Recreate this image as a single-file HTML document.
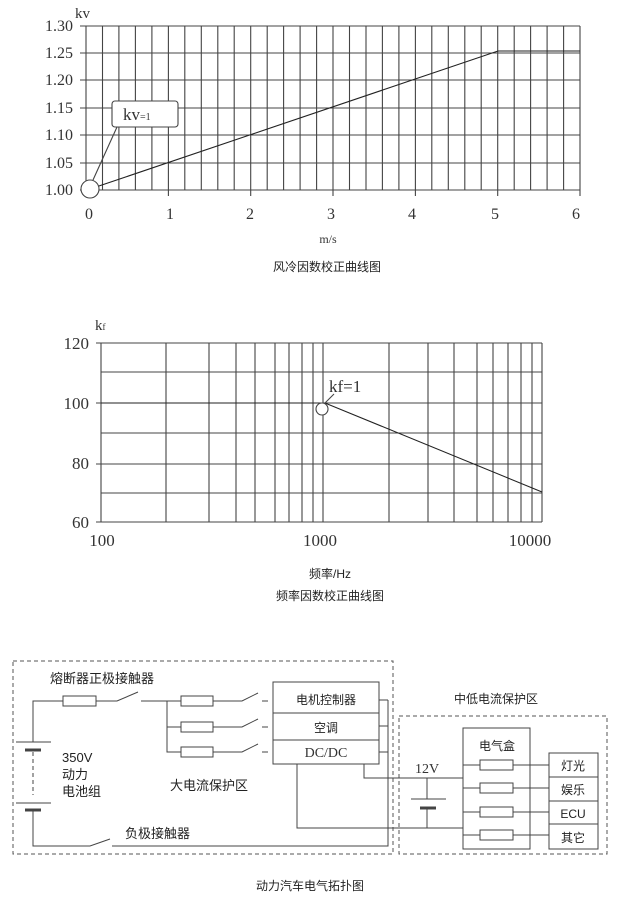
<!DOCTYPE html>
<html><head><meta charset="utf-8"><style>
html,body{margin:0;padding:0;background:#fff;}
svg{display:block;}
.s{font-family:"Liberation Serif",serif;fill:#333;}
.c{font-family:"Liberation Sans","Noto Sans CJK SC",sans-serif;fill:#222;}
</style></head><body>
<svg width="617" height="902" viewBox="0 0 617 902" xmlns="http://www.w3.org/2000/svg">
<g stroke="#444" stroke-width="1.1" fill="none">
<path d="M86 26V190M102.5 26V190M118.9 26V190M135.4 26V190M151.9 26V190M168.4 26V190M184.8 26V190M201.3 26V190M217.8 26V190M234.2 26V190M250.7 26V190M267.2 26V190M283.6 26V190M300.1 26V190M316.6 26V190M333 26V190M349.5 26V190M366 26V190M382.4 26V190M398.9 26V190M415.4 26V190M431.8 26V190M448.3 26V190M464.8 26V190M481.2 26V190M497.7 26V190M514.2 26V190M530.6 26V190M547.1 26V190M563.6 26V190M580 26V196"/>
<path d="M80 26H580M80 53H580M80 80H580M80 108H580M80 135H580M80 163H580M80 190H580M86 190V196M168.4 190V196M250.7 190V196M333 190V196M415.4 190V196M497.7 190V196"/>
<path d="M90 189L498 51H580" stroke="#222"/>
<circle cx="90" cy="189" r="9" fill="#fff"/>
<path d="M117 127L93 180"/>
<rect x="112" y="101" width="66" height="26" rx="3" fill="#fff"/>
<path d="M101 343V522M166 343V522M209 343V522M236 343V522M255 343V522M275 343V522M289 343V522M302 343V522M313 343V522M323 343V522M389 343V522M428 343V522M454 343V522M477 343V522M493 343V522M508 343V522M521 343V522M532 343V522M542 343V522"/>
<path d="M96 343H542M101 372H542M96 403H542M101 433H542M96 464H542M101 493H542M96 522H542"/>
<path d="M101 403H325L542 492" stroke="#222"/>
<circle cx="322" cy="409" r="6" fill="#fff"/>
<path d="M325 403L334 394"/>
</g>
<g class="s" font-size="16">
<text x="75" y="18" font-size="15">kv</text>
<g text-anchor="end"><text x="73" y="31">1.30</text><text x="73" y="58">1.25</text><text x="73" y="85">1.20</text><text x="73" y="113">1.15</text><text x="73" y="140">1.10</text><text x="73" y="168">1.05</text><text x="73" y="195">1.00</text></g>
<g text-anchor="middle"><text x="89" y="219">0</text><text x="170" y="219">1</text><text x="250" y="219">2</text><text x="331" y="219">3</text><text x="412" y="219">4</text><text x="495" y="219">5</text><text x="576" y="219">6</text></g>
<text x="123" y="120" font-size="17">kv<tspan font-size="10">=1</tspan></text>
<text x="328" y="243" text-anchor="middle" font-size="12">m/s</text>
<text x="95" y="330" font-size="15">k<tspan font-size="9">f</tspan></text>
<g text-anchor="end" font-size="17"><text x="89" y="349">120</text><text x="89" y="409">100</text><text x="89" y="469">80</text><text x="89" y="528">60</text></g>
<g text-anchor="middle" font-size="17"><text x="102" y="546">100</text><text x="320" y="546">1000</text><text x="530" y="546">10000</text></g>
<text x="329" y="392" font-size="17">kf=1</text>
</g>
<g class="c" font-size="12" text-anchor="middle">
<text x="327" y="271">风冷因数校正曲线图</text>
<text x="330" y="578">频率/Hz</text>
<text x="330" y="600">频率因数校正曲线图</text>
<text x="310" y="890">动力汽车电气拓扑图</text>
</g>
<g fill="none" stroke="#444" stroke-width="1">
<rect x="13" y="661" width="380" height="193" stroke-dasharray="4,3" stroke="#555"/>
<rect x="399" y="716" width="208" height="138" stroke-dasharray="4,3" stroke="#555"/>
<path d="M33 742V701H63M96 701H117L138 692M141 701H181M167 701V752H181M167 727H181M213 701H242L258 693M213 727H242L258 719M213 752H242L258 744M262 701H268M262 727H268M262 752H268"/>
<rect x="63" y="696" width="33" height="10"/>
<rect x="181" y="696" width="32" height="10"/>
<rect x="181" y="722" width="32" height="10"/>
<rect x="181" y="747" width="32" height="10"/>
<path d="M16 742H51M16 803H51"/>
<path d="M25 750H41M25 810H41" stroke-width="3"/>
<path d="M33 752V795" stroke-dasharray="4,3"/>
<path d="M33 810V846H90L110 839M112 846H388V700M379 700H388M379 726H388M379 752H388"/>
<rect x="273" y="682" width="106" height="82" fill="#fff"/>
<path d="M273 713H379M273 740H379"/>
<path d="M297 764V828H463M364 764V778H463M427 778V799M427 808V828"/>
<path d="M411 799H446"/>
<path d="M420 808H436" stroke-width="3"/>
<rect x="463" y="728" width="67" height="121"/>
<path d="M463 765H549M463 788H549M463 812H549M463 835H549"/>
<rect x="480" y="760" width="33" height="10" fill="#fff"/>
<rect x="480" y="783" width="33" height="10" fill="#fff"/>
<rect x="480" y="807" width="33" height="10" fill="#fff"/>
<rect x="480" y="830" width="33" height="10" fill="#fff"/>
<rect x="549" y="753" width="49" height="96"/>
<path d="M549 777H598M549 801H598M549 824H598"/>
</g>
<g class="c" font-size="13">
<text x="50" y="683">熔断器正极接触器</text>
<text x="62" y="762">350V</text>
<text x="62" y="779">动力</text>
<text x="62" y="796">电池组</text>
<text x="170" y="790">大电流保护区</text>
<text x="125" y="838">负极接触器</text>
</g>
<g class="c" font-size="12" text-anchor="middle">
<text x="326" y="704">电机控制器</text>
<text x="326" y="732">空调</text>
<text x="496" y="703">中低电流保护区</text>
<text x="497" y="750">电气盒</text>
<text x="573" y="770">灯光</text>
<text x="573" y="794">娱乐</text>
<text x="573" y="818">ECU</text>
<text x="573" y="842">其它</text>
</g>
<g class="s" font-size="14" text-anchor="middle">
<text x="326" y="757">DC/DC</text>
<text x="427" y="773">12V</text>
</g>
</svg>
</body></html>
